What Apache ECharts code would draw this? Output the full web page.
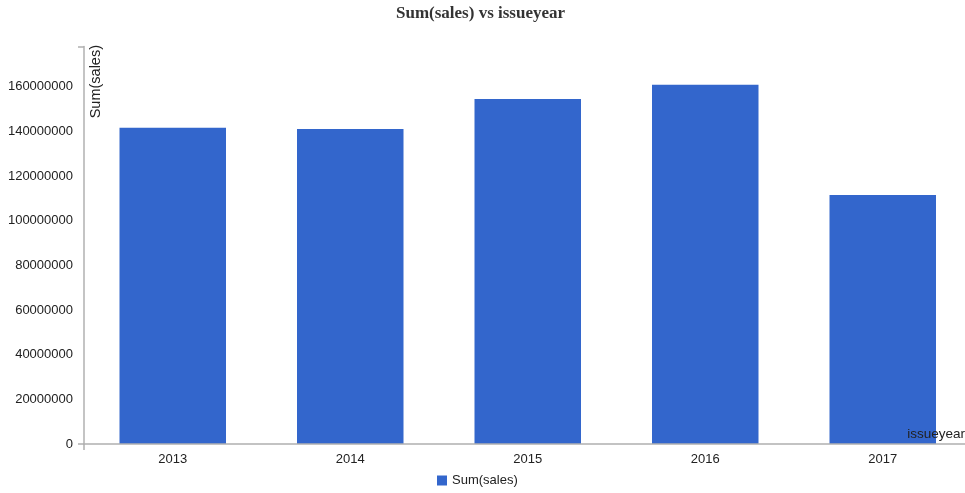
<!DOCTYPE html>
<html>
<head>
<meta charset="utf-8">
<title>Sum(sales) vs issueyear</title>
<script src="https://cdn.jsdelivr.net/npm/echarts@6/dist/echarts.min.js"></script>
<style>
  html, body { margin: 0; padding: 0; background: #fff; }
  #chart { width: 965px; height: 493px; }
</style>
</head>
<body>
<div id="chart"></div>
<script>
// Yearly totals of sales
const years = ['2013', '2014', '2015', '2016', '2017'];
const salesTotals = [141600000, 141100000, 154500000, 160900000, 111500000];

// Value axis range and tick spacing
const yMin = 0;
const yMax = 178000000;
const yStep = 20000000;

const seriesName = 'Sum(sales)';
const titleText = 'Sum(sales) vs issueyear';
const xName = 'issueyear';
const yName = 'Sum(sales)';

const font = 'Arial, "Liberation Sans", sans-serif';
const axisGrey = '#b0b0b0';
const textColor = '#222';

const chart = echarts.init(document.getElementById('chart'), null, { renderer: 'canvas' });

chart.setOption({
  animation: false,
  backgroundColor: '#fff',
  title: {
    text: titleText,
    left: 396,
    top: 5,
    padding: 0,
    textStyle: {
      fontFamily: '"Liberation Serif", "Times New Roman", serif',
      fontWeight: 'bold',
      fontSize: 17,
      color: '#333'
    }
  },
  legend: {
    data: [seriesName],
    left: 437,
    top: 474,
    padding: 0,
    icon: 'rect',
    itemWidth: 10,
    itemHeight: 10,
    itemGap: 6,
    textStyle: { fontFamily: font, fontSize: 13, color: textColor }
  },
  grid: {
    left: 84,
    top: 46.5,
    width: 887.5,
    bottom: 49,
    containLabel: false,
    outerBoundsMode: 'none'
  },
  xAxis: [
    {
      type: 'category',
      data: years,
      z: 5,
      boundaryGap: true,
      name: xName,
      nameLocation: 'end',
      nameGap: -6.5,
      nameTextStyle: {
        fontFamily: font,
        fontSize: 13.5,
        color: textColor,
        align: 'right',
        verticalAlign: 'bottom',
        padding: [0, 0, 3, 0]
      },
      axisLine: { show: true, lineStyle: { color: axisGrey, width: 1.5 } },
      axisTick: { show: false },
      axisLabel: { fontFamily: font, fontSize: 13, color: textColor, margin: 9 },
      splitLine: { show: false }
    },
    {
      // outer end ticks of the horizontal axis
      type: 'value',
      position: 'bottom',
      min: 0,
      max: 1,
      interval: 1,
      axisLine: { show: false },
      axisTick: { show: true, length: 6, lineStyle: { color: axisGrey, width: 1.5 } },
      axisLabel: { show: false },
      splitLine: { show: false }
    }
  ],
  yAxis: [
    {
      type: 'value',
      min: yMin,
      max: yMax,
      interval: yStep,
      axisLine: { show: true, lineStyle: { color: axisGrey, width: 1.5 } },
      axisTick: { show: false },
      axisLabel: {
        fontFamily: font,
        fontSize: 13,
        color: textColor,
        margin: 11,
        showMaxLabel: false,
        formatter: function (v) { return (v % yStep === 0) ? String(v) : ''; }
      },
      splitLine: { show: false }
    },
    {
      // outer end ticks of the vertical axis
      type: 'value',
      position: 'left',
      min: yMin,
      max: yMax,
      interval: yMax,
      axisLine: { show: false },
      axisTick: { show: true, length: 6, lineStyle: { color: axisGrey, width: 1.5 } },
      axisLabel: { show: false },
      splitLine: { show: false }
    }
  ],
  graphic: [
    {
      type: 'text',
      left: 88,
      top: 45,
      rotation: Math.PI / 2,
      style: {
        text: yName,
        fontFamily: font,
        fontSize: 14.5,
        fill: textColor
      }
    }
  ],
  series: [
    {
      name: seriesName,
      type: 'bar',
      xAxisIndex: 0,
      yAxisIndex: 0,
      data: salesTotals,
      barCategoryGap: '40%',
      itemStyle: { color: '#3366cc' }
    }
  ]
});
</script>
</body>
</html>
